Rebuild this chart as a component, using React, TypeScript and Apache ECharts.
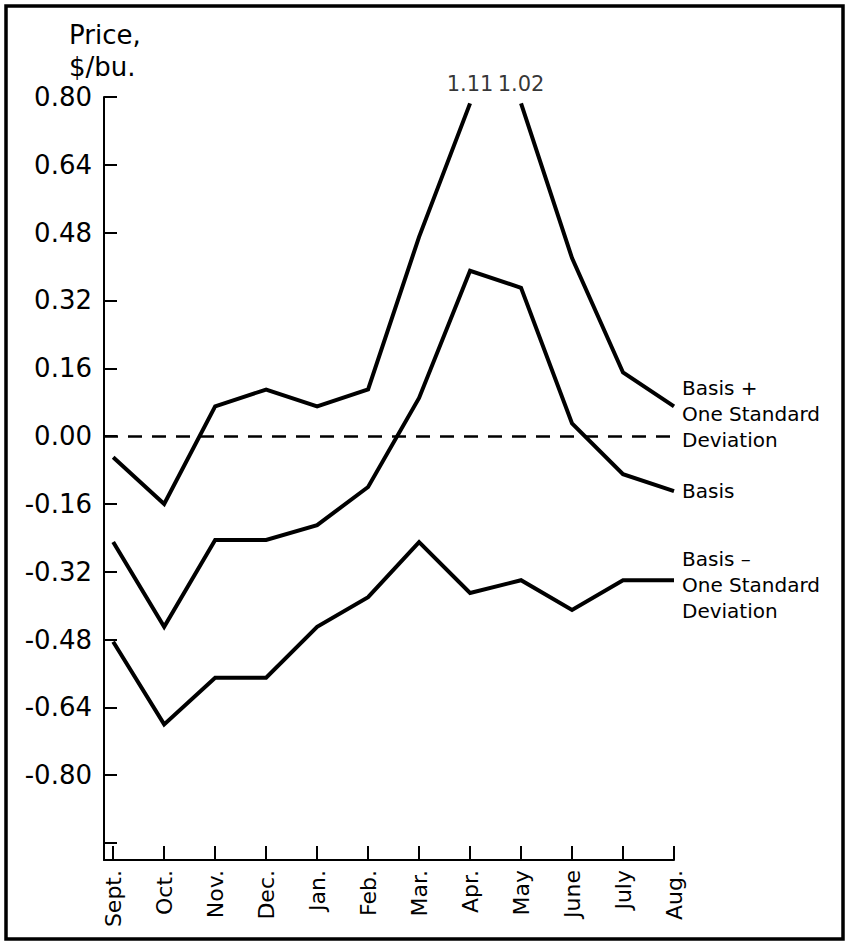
import React, { useEffect, useRef } from "react";
import * as echarts from "echarts";

const months = ["Sept.", "Oct.", "Nov.", "Dec.", "Jan.", "Feb.", "Mar.", "Apr.", "May", "June", "July", "Aug."];
const upperValues = [-0.05, -0.16, 0.07, 0.11, 0.07, 0.11, 0.47, 1.11, 1.02, 0.42, 0.15, 0.07];
const basisValues = [-0.25, -0.45, -0.245, -0.245, -0.21, -0.12, 0.09, 0.39, 0.35, 0.03, -0.09, -0.13];
const lowerValues = [-0.485, -0.68, -0.57, -0.57, -0.45, -0.38, -0.25, -0.37, -0.34, -0.41, -0.34, -0.34];
const yTickValues = [-0.96, -0.8, -0.64, -0.48, -0.32, -0.16, 0, 0.16, 0.32, 0.48, 0.64, 0.8];
const yLabelValues = [-0.8, -0.64, -0.48, -0.32, -0.16, 0, 0.16, 0.32, 0.48, 0.64, 0.8];
const offScaleCap = 0.785;

const FONT = "DejaVu Sans";

export default function App() {
  const ref = useRef<HTMLDivElement>(null);
  useEffect(() => {
    if (!ref.current) return;
    const chart = echarts.init(ref.current, null, { renderer: "svg" });
    const idx = months.map((_, i) => i);
    const disp = (v: number) => Math.min(v, offScaleCap);
    const upperA = idx.slice(0, 8).map((i) => [i, disp(upperValues[i])]);
    const upperB = idx.slice(8).map((i) => [i, disp(upperValues[i])]);
    const offScale = idx.filter((i) => upperValues[i] > offScaleCap);
    const lineStyle = { color: "#000", width: 4, cap: "butt" as const, join: "miter" as const };
    const endLabelBase = {
      show: true,
      color: "#000",
      fontFamily: FONT,
      fontSize: 20,
      lineHeight: 26,
      distance: 8,
      align: "left" as const,
    };
    chart.setOption({
      animation: false,
      backgroundColor: "#fff",
      title: {
        text: "Price,\n$/bu.",
        left: 64,
        top: 14,
        textStyle: { color: "#000", fontFamily: FONT, fontSize: 26, fontWeight: "normal", lineHeight: 32 },
      },
      graphic: [
        {
          type: "rect",
          shape: { x: 6, y: 6, width: 837, height: 933 },
          style: { fill: "none", stroke: "#000", lineWidth: 3.5 },
          silent: true,
        },
      ],
      grid: { left: 104, right: 176, top: 97, bottom: 82 },
      xAxis: {
        type: "value",
        min: -0.18,
        max: 11,
        splitLine: { show: false },
        axisLine: { show: true, onZero: false, lineStyle: { color: "#000", width: 2 } },
        axisTick: {
          show: true,
          inside: true,
          length: 14,
          customValues: idx,
          lineStyle: { color: "#000", width: 2 },
        },
        axisLabel: {
          customValues: idx,
          rotate: 90,
          margin: 10,
          color: "#000",
          fontFamily: FONT,
          fontSize: 22,
          formatter: (v: number) => months[Math.round(v)] ?? "",
        },
      },
      yAxis: {
        type: "value",
        min: -1.0,
        max: 0.8,
        splitLine: { show: false },
        axisLine: { show: true, onZero: false, lineStyle: { color: "#000", width: 2 } },
        axisTick: {
          show: true,
          inside: true,
          length: 13,
          customValues: yTickValues,
          lineStyle: { color: "#000", width: 2 },
        },
        axisLabel: {
          customValues: yLabelValues,
          margin: 12,
          color: "#000",
          fontFamily: FONT,
          fontSize: 26,
          formatter: (v: number) => v.toFixed(2),
        },
      },
      series: [
        {
          type: "line",
          data: upperA,
          symbol: "none",
          lineStyle,
          silent: true,
        },
        {
          type: "line",
          data: upperB,
          symbol: "none",
          lineStyle,
          silent: true,
          endLabel: { ...endLabelBase, formatter: "Basis +\nOne Standard\nDeviation", offset: [0, 8] },
        },
        {
          type: "line",
          data: idx.map((i) => [i, basisValues[i]]),
          symbol: "none",
          lineStyle,
          silent: true,
          endLabel: { ...endLabelBase, formatter: "Basis" },
          markLine: {
            silent: true,
            symbol: "none",
            label: { show: false },
            lineStyle: { color: "#000", width: 2.5, type: [14, 10] },
            data: [{ yAxis: 0 }],
          },
        },
        {
          type: "line",
          data: idx.map((i) => [i, lowerValues[i]]),
          symbol: "none",
          lineStyle,
          silent: true,
          endLabel: { ...endLabelBase, formatter: "Basis \u2013\nOne Standard\nDeviation", offset: [0, 5] },
        },
        {
          type: "scatter",
          data: offScale.map((i) => ({
            value: [i, disp(upperValues[i])],
            label: { formatter: upperValues[i].toFixed(2) },
          })),
          symbolSize: 1,
          itemStyle: { color: "rgba(0,0,0,0)" },
          silent: true,
          label: {
            show: true,
            position: "top",
            distance: 8,
            color: "#000",
            fontFamily: FONT,
            fontSize: 21,
            textBorderWidth: 0,
          },
        },
      ],
    });
    return () => chart.dispose();
  }, []);
  return (
    <div
      ref={ref}
      style={{ position: "fixed", left: 0, top: 0, width: 850, height: 942, background: "#fff" }}
    />
  );
}
